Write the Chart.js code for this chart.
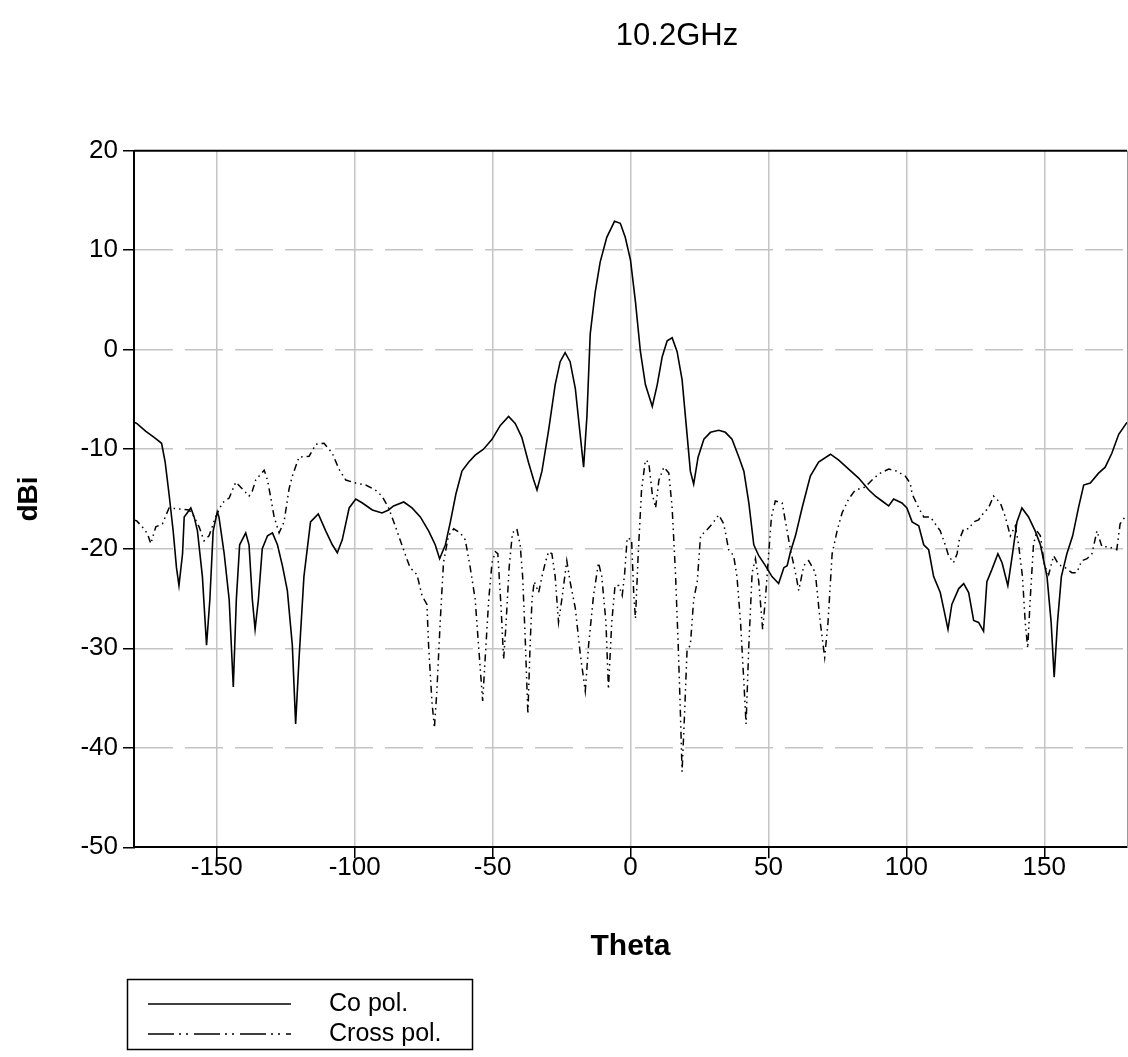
<!DOCTYPE html>
<html>
<head>
<meta charset="utf-8">
<title>10.2GHz radiation pattern</title>
<script src="https://cdn.jsdelivr.net/npm/chart.js@4.4.1/dist/chart.umd.min.js"></script>
<style>
  html, body { margin: 0; padding: 0; background: #fff; }
  #wrap { width: 1128px; height: 1057px; position: relative; }
</style>
</head>
<body>
<div id="wrap"><canvas id="pattern" width="1128" height="1057"></canvas></div>
<script>
// Measured gain pattern at 10.2 GHz, theta in degrees, gain in dBi.
const chartTitle = '10.2GHz';
const seriesNames = ['Co pol.', 'Cross pol.'];
const xTicks = [-150, -100, -50, 0, 50, 100, 150];
const yTicks = [-50, -40, -30, -20, -10, 0, 10, 20];

const coTheta = [
  -180, -179, -175.7, -172.7, -170, -168.7, -167.3, -165.8, -164.6, -163.7,
  -162.4, -161.8, -159.4, -158.2, -157, -155.2, -153.7, -152.5, -151.3, -149.8,
  -149.2, -147.3, -145.5, -144, -142.9, -141.7, -139.5, -138.3, -137.1, -136.1,
  -134.9, -133.5, -131.6, -129.8, -128, -126.2, -124.4, -122.6, -121.4, -120.2,
  -118.4, -116, -113.2, -110.5, -108.1, -106.3, -104.5, -102, -99.6, -97.2,
  -93.6, -90.1, -87.7, -85.9, -82.2, -79.2, -76.2, -73.2, -70.8, -69.2,
  -67.1, -65.3, -63.3, -61.1, -58.7, -56.3, -53.3, -50.2, -47.2, -44.2,
  -41.8, -39.4, -37, -35.1, -33.9, -32.1, -29.7, -27.3, -25.5, -23.7,
  -21.9, -20, -18.6, -17, -15.8, -14.6, -12.8, -11, -8.6, -5.8,
  -3.7, -1.9, 0, 1.8, 3.6, 5.4, 7.9, 9.7, 11.5, 13.3,
  15.1, 16.9, 18.7, 20.5, 21.7, 22.9, 24.5, 26.6, 29, 32,
  34.4, 36.8, 39.3, 41.1, 42.9, 44.7, 46.5, 48.9, 51.3, 53.7,
  55.6, 56.8, 58, 59.8, 62.2, 65.2, 68.2, 72.5, 75.5, 79.1,
  82.7, 86.4, 88.8, 91.2, 93.6, 95.4, 98.4, 100.2, 102.1, 104.5,
  106.3, 108.1, 109.9, 112.3, 113.9, 115.1, 116.5, 119, 120.8, 122.6,
  124.4, 126.2, 128, 129.2, 131, 133.2, 134.7, 136.8, 138.5, 140.1,
  141.9, 144.3, 146.7, 148.6, 151, 152.5, 153.6, 154.8, 156.2, 158.2,
  160.3, 162.4, 164.3, 166.7, 169.7, 172.1, 174.5, 177, 180
];
const coGain = [
  -7.3, -7.4, -8.2, -8.8, -9.4, -11.3, -14.5, -18.2, -21.9, -23.7,
  -20.5, -16.8, -15.9, -16.8, -18.2, -22.8, -29.7, -25.1, -18.2, -16.3,
  -16.8, -20.5, -25.1, -33.9, -25.1, -19.6, -18.4, -19.6, -25.1, -28.1,
  -25.1, -20, -18.7, -18.4, -19.6, -21.7, -24.2, -29.7, -37.6, -31.2,
  -22.8, -17.3, -16.5, -18.2, -19.6, -20.4, -19.1, -15.9, -15, -15.4,
  -16.1, -16.4, -16.1, -15.7, -15.3, -15.9, -16.8, -18.2, -19.6, -21,
  -19.6, -17.3, -14.5, -12.2, -11.3, -10.6, -10, -9, -7.6, -6.7,
  -7.4, -8.8, -11.3, -13.1, -14.1, -12.2, -8.1, -3.5, -1.2, -0.3,
  -1.2, -3.9, -7.6, -11.8, -6.7, 1.6, 5.8, 8.8, 11.3, 12.9,
  12.7, 11.3, 9, 4.8, -0.2, -3.5, -5.7, -3.5, -0.7, 0.9,
  1.2, -0.2, -3, -8.5, -12.2, -13.5, -10.8, -9, -8.3, -8.1,
  -8.3, -9, -10.8, -12.2, -15.4, -19.6, -20.7, -21.7, -22.8, -23.5,
  -21.9, -21.7, -20.3, -18.7, -15.9, -12.7, -11.3, -10.5, -11.1, -12,
  -12.9, -14.1, -14.7, -15.2, -15.7, -15, -15.4, -15.9, -17.3, -17.7,
  -19.6, -20.1, -22.8, -24.4, -26.5, -28.1, -25.6, -24, -23.5, -24.4,
  -27.2, -27.4, -28.3, -23.3, -22.1, -20.5, -21.4, -23.7, -20.5, -17.3,
  -15.9, -16.8, -18.2, -19.6, -22.8, -27.4, -32.9, -27.4, -22.8, -20.5,
  -18.7, -15.9, -13.6, -13.4, -12.4, -11.8, -10.4, -8.5, -7.3
];

const crossTheta = [
  -180, -179, -177, -175.1, -173.9, -172.1, -169.7, -167.3, -163.7, -160,
  -158.2, -156.4, -154.6, -152.8, -150.4, -148, -145.5, -143.1, -140.7, -138.3,
  -137.1, -135.9, -132.8, -131.6, -130.4, -129.2, -127.4, -125.6, -123.8, -122.6,
  -120.2, -116.5, -114.1, -111.1, -108.1, -105.7, -103.2, -99.6, -96, -92.5,
  -90.1, -87.7, -85.3, -82.9, -81.1, -79.9, -77.4, -75.6, -73.8, -73.2,
  -72, -71.1, -70.2, -69, -67.8, -66, -64.1, -61.7, -59.9, -58.1,
  -56.3, -55.1, -53.6, -52.4, -51.4, -50.2, -49, -48.1, -46.9, -46,
  -45.2, -44, -42.8, -41.2, -40, -39.1, -38.2, -37.2, -36.4, -35.7,
  -34.9, -33.3, -32.1, -30.9, -29.7, -28.5, -27.3, -26.1, -24.9, -23.1,
  -21.9, -20, -18.2, -16.4, -15.2, -13.4, -11.6, -10.4, -8.9, -8,
  -6.8, -5.6, -4.2, -3, -2.1, -1.2, 0.4, 1.2, 1.8, 2.8,
  4, 5.4, 6.6, 7.9, 9.1, 10.3, 12.1, 13.9, 15.1, 16.3,
  17.3, 18.1, 18.7, 19.6, 20.5, 21.7, 22.9, 24.2, 25.4, 27.4,
  29.6, 32, 33.8, 35.6, 37.4, 38.6, 39.9, 41.1, 41.9, 42.9,
  44.1, 45.3, 46.5, 47.9, 48.9, 50.1, 51.1, 52.5, 55, 56.2,
  58, 59.8, 61, 62.8, 64.6, 67, 68.8, 70.4, 71.6, 73.1,
  74.9, 76.7, 79.1, 81.5, 85.1, 88.2, 90.6, 93.6, 96.6, 99.6,
  101.4, 102.1, 104.5, 106.3, 108.7, 110.5, 112.3, 114.1, 115.3, 117.1,
  118.4, 119.2, 120.8, 122.6, 124.4, 126.2, 128, 129.8, 131.6, 134.1,
  135.9, 137.7, 139.5, 140.7, 142.1, 143.1, 144, 144.9, 146.1, 147.3,
  148.6, 150.1, 151.6, 153.4, 155.2, 157.6, 160, 161.8, 163.6, 165.5,
  167.3, 169.1, 170.9, 173.3, 176.3, 177.5, 179.3, 180
];
const crossGain = [
  -17.1, -17.2, -17.8, -18.5, -19.5, -17.8, -17.5, -15.9, -16, -16.1,
  -16.8, -17.8, -19.2, -18.7, -16.8, -15.4, -14.9, -13.3, -14, -14.7,
  -14.2, -13.1, -12.1, -13.1, -14.9, -16.8, -18.4, -17.3, -14, -12.7,
  -10.8, -10.7, -9.5, -9.4, -10.4, -12, -13.1, -13.4, -13.6, -14.1,
  -14.7, -15.9, -17.7, -19.6, -21, -21.9, -22.6, -24.7, -25.6, -29.7,
  -35.3, -38, -34.3, -27.4, -21.4, -18.7, -18, -18.4, -19.1, -21.9,
  -25.1, -29.7, -35.3, -29.7, -25.1, -21.4, -20.3, -20.5, -26, -31.1,
  -27.9, -21.9, -18.4, -18, -19.6, -22.8, -28.8, -36.6, -29.7, -25.1,
  -23.3, -24.4, -22.8, -21.4, -20.3, -20.5, -22.8, -27.4, -25.1, -21.2,
  -23.3, -26, -30.6, -34.3, -29.7, -24.7, -21.4, -22.8, -27.4, -34.1,
  -27.4, -23.7, -23.7, -24.7, -22.4, -18.9, -19.1, -24.7, -27, -20.5,
  -14.1, -11.1, -11.3, -14.5, -15.9, -13.1, -11.8, -12.4, -15.9, -22.4,
  -29.7, -36.6, -42.4, -36.6, -30.2, -29.7, -25.1, -23.3, -18.7, -18.2,
  -17.5, -16.6, -17.5, -20.1, -20.7, -22.8, -27.4, -33.4, -37.6, -29.7,
  -22.4, -21, -23.3, -28.1, -25.1, -20.5, -16.8, -15.2, -15.4, -17.3,
  -20.1, -22.4, -24.2, -21.7, -21.2, -22.4, -27.4, -30.9, -27.4, -20.5,
  -18.2, -16.4, -15, -14.1, -13.8, -12.9, -12.4, -12, -12.2, -12.7,
  -13.4, -14.5, -15.9, -16.8, -16.8, -17.5, -18.2, -19.6, -20.7, -21.4,
  -20.5, -19.1, -18, -18, -17.3, -17.1, -16.4, -15.9, -14.7, -15.4,
  -16.8, -18.7, -17.7, -19.6, -22.8, -27.4, -30, -25.1, -19.6, -18.2,
  -18.7, -21.7, -22.6, -20.7, -21.6, -21.9, -22.4, -22.4, -21.2, -21,
  -20.5, -18.2, -19.8, -19.8, -20.1, -17.5, -16.8, -16.6
];

const FONT = "'Liberation Sans', Arial, sans-serif";
const crossDash = [7, 4, 1.5, 4, 1.5, 4];

function toPoints(xs, ys) {
  return xs.map((x, i) => ({ x: x, y: ys[i] }));
}

// Title, plot frame and boxed legend drawn on top of the chart.
const decorations = {
  id: 'decorations',
  afterDraw(chart) {
    const ctx = chart.ctx;
    const a = chart.chartArea;
    ctx.save();

    // top and right frame edges
    ctx.strokeStyle = '#000';
    ctx.lineWidth = 2;
    ctx.beginPath();
    ctx.moveTo(a.left, a.top);
    ctx.lineTo(a.right, a.top);
    ctx.stroke();
    ctx.strokeStyle = '#9a9a9a';
    ctx.lineWidth = 1;
    ctx.beginPath();
    ctx.moveTo(a.right + 0.5, a.top);
    ctx.lineTo(a.right + 0.5, a.bottom);
    ctx.stroke();

    // chart title
    ctx.fillStyle = '#000';
    ctx.font = '31px ' + FONT;
    ctx.textAlign = 'center';
    ctx.textBaseline = 'middle';
    ctx.fillText(chartTitle, 677, 36);

    // legend box
    const bx = 127.5, by = 979.5, bw = 345, bh = 70;
    ctx.strokeStyle = '#000';
    ctx.lineWidth = 1.5;
    ctx.strokeRect(bx, by, bw, bh);

    const rows = [1004, 1034];
    chart.data.datasets.forEach((ds, i) => {
      ctx.save();
      ctx.strokeStyle = '#000';
      ctx.lineWidth = 1.5;
      ctx.setLineDash(i === 1 ? [26, 5, 2, 5, 2, 6] : []);
      ctx.beginPath();
      ctx.moveTo(148, rows[i]);
      ctx.lineTo(291, rows[i]);
      ctx.stroke();
      ctx.restore();
      ctx.fillStyle = '#000';
      ctx.font = '25px ' + FONT;
      ctx.textAlign = 'left';
      ctx.textBaseline = 'middle';
      ctx.fillText(ds.label, 329, rows[i]);
    });
    ctx.restore();
  }
};

new Chart(document.getElementById('pattern'), {
  type: 'line',
  data: {
    datasets: [
      {
        label: seriesNames[0],
        data: toPoints(coTheta, coGain),
        borderColor: '#000',
        borderWidth: 1.6,
        pointRadius: 0,
        tension: 0,
        fill: false
      },
      {
        label: seriesNames[1],
        data: toPoints(crossTheta, crossGain),
        borderColor: '#000',
        borderWidth: 1.5,
        borderDash: crossDash,
        pointRadius: 0,
        tension: 0,
        fill: false
      }
    ]
  },
  options: {
    responsive: false,
    animation: false,
    devicePixelRatio: 1,
    layout: { padding: { top: 150.7, right: 1, bottom: 89.7, left: 0 } },
    plugins: {
      legend: { display: false },
      title: { display: false },
      tooltip: { enabled: false }
    },
    scales: {
      x: {
        type: 'linear',
        min: -180,
        max: 180,
        afterBuildTicks: s => { s.ticks = xTicks.map(v => ({ value: v })); },
        afterFit: s => { s.height = 120; },
        grid: {
          color: '#c4c4c4',
          lineWidth: 1.5,
          tickColor: '#000',
          tickLength: 11,
          tickWidth: 1.5,
          tickBorderDash: []
        },
        border: { display: true, color: '#000', width: 2 },
        ticks: {
          color: '#000',
          font: { family: FONT, size: 26 },
          padding: -6,
          maxRotation: 0,
          autoSkip: false
        },
        title: {
          display: true,
          text: 'Theta',
          color: '#000',
          font: { family: FONT, size: 30, weight: 'bold' },
          padding: { top: 0, bottom: 3 }
        }
      },
      y: {
        type: 'linear',
        min: -50,
        max: 20,
        afterBuildTicks: s => { s.ticks = yTicks.map(v => ({ value: v })); },
        afterFit: s => { s.width = 134; },
        grid: {
          color: c => (c.tick && (c.tick.value === 20 || c.tick.value === -50)) ? 'rgba(0,0,0,0)' : '#c4c4c4',
          lineWidth: 1.5,
          tickColor: '#000',
          tickLength: 11,
          tickWidth: 1.5,
          tickBorderDash: []
        },
        border: { display: true, color: '#000', width: 2, dash: [38, 12] },
        ticks: {
          color: '#000',
          font: { family: FONT, size: 26 },
          padding: 5
        },
        title: {
          display: true,
          text: 'dBi',
          color: '#000',
          font: { family: FONT, size: 28, weight: 'bold' },
          padding: { top: 12, bottom: 0 }
        }
      }
    }
  },
  plugins: [decorations]
});
</script>
</body>
</html>
